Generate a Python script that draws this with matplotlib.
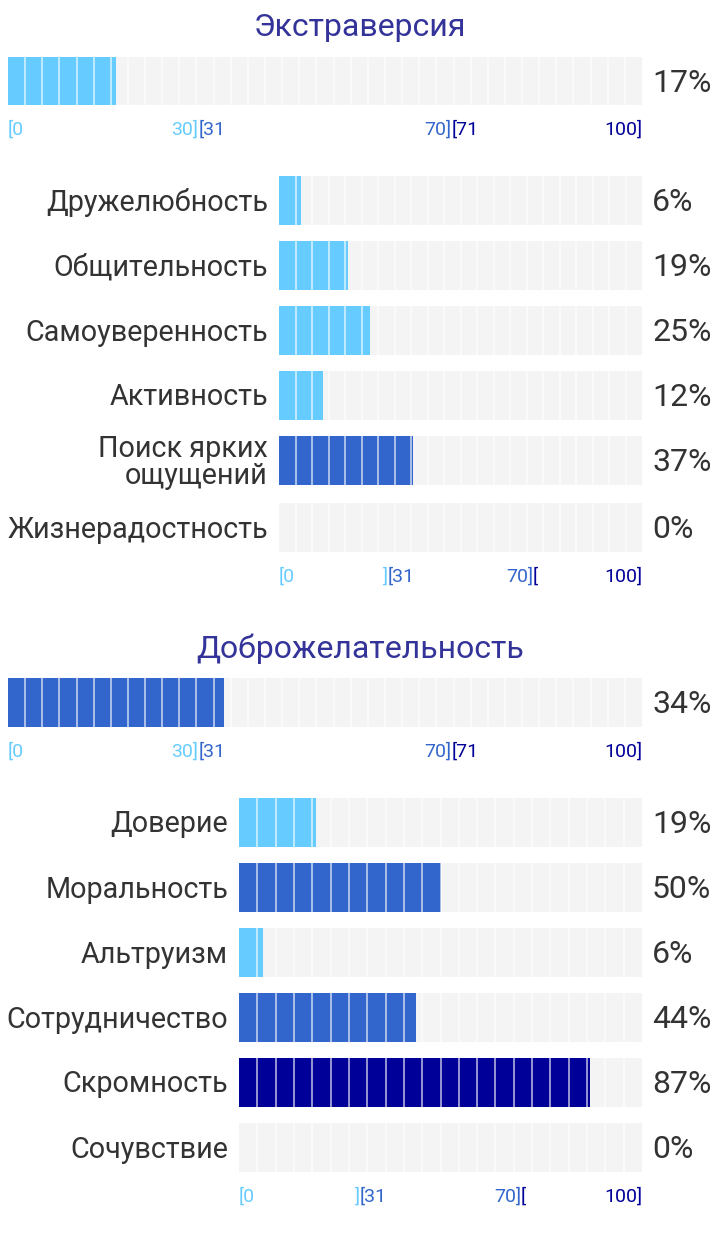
import matplotlib
matplotlib.use("Agg")
import matplotlib.pyplot as plt
import numpy as np

plt.rcParams['font.family'] = ['Roboto', 'DejaVu Sans']

# данные
titles = ["Экстраверсия", "Доброжелательность"]
main_values = [17, 34]
sub_labels_1 = ["Дружелюбность", "Общительность", "Самоуверенность", "Активность",
                "Поиск ярких\nощущений", "Жизнерадостность"]
sub_values_1 = [6, 19, 25, 12, 37, 0]
sub_labels_2 = ["Доверие", "Моральность", "Альтруизм", "Сотрудничество",
                "Скромность", "Сочувствие"]
sub_values_2 = [19, 50, 6, 44, 87, 0]

# цвета
LIGHT = "#66ccff"
MID = "#3366cc"
DARK = "#000099"
GRAY = "#f4f4f4"
TXT = "#333333"
TITLE = "#333399"

W, H = 720, 1240
fig = plt.figure(figsize=(W / 100, H / 100), dpi=100)


def px(v):
    return v * 72 / 100  # пиксели -> пункты


def bar_color(v):
    if v <= 30:
        return LIGHT
    if v <= 70:
        return MID
    return DARK


def make_ax(x0, y0, x1, y1):
    ax = fig.add_axes([x0 / W, 1 - y1 / H, (x1 - x0) / W, (y1 - y0) / H])
    ax.set_xlim(0, 100)
    ax.set_ylim(-0.5, 0.5)
    ax.axis("off")
    return ax


def draw_bar(ax, value, nseg):
    ax.barh(0, 100, height=1, color=GRAY, zorder=1)
    if value > 0:
        ax.barh(0, value, height=1, color=bar_color(value), zorder=2)
    seg = np.linspace(0, 100, nseg + 1)[1:-1]
    ax.vlines(seg, -0.5, 0.5, color="white", lw=1.1, alpha=0.75, zorder=3)
    ax.annotate(f"{value}%", xy=(1, 0.5), xycoords="axes fraction",
                xytext=(10, -2), textcoords="offset pixels",
                ha="left", va="center", fontsize=px(32), color=TXT)


def tick(ax, x, s, color, ha, dy):
    ax.annotate(s, xy=(x, 0), xycoords=("data", "axes fraction"),
                xytext=(0, -dy), textcoords="offset pixels",
                ha=ha, va="center", fontsize=px(19.5), color=color)


def main_ticks(ax):
    tick(ax, 0, "[0", LIGHT, "left", 25)
    tick(ax, 30, "30]", LIGHT, "right", 25)
    tick(ax, 30, "[31", MID, "left", 25)
    tick(ax, 70, "70]", MID, "right", 25)
    tick(ax, 70, "[71", DARK, "left", 25)
    tick(ax, 100, "100]", DARK, "right", 25)


def sub_ticks(ax):
    tick(ax, 0, "[0", LIGHT, "left", 25)
    tick(ax, 30, "]", LIGHT, "right", 25)
    tick(ax, 30, "[31", MID, "left", 25)
    tick(ax, 70, "70]", MID, "right", 25)
    tick(ax, 70, "[", DARK, "left", 25)
    tick(ax, 100, "100]", DARK, "right", 25)


sections = [
    dict(title_y=27, main=(57, 105), sub_x=279,
         sub_tops=[176, 241, 306, 371, 436, 503],
         labels=sub_labels_1, values=sub_values_1),
    dict(title_y=649, main=(678, 727), sub_x=239,
         sub_tops=[798, 863, 928, 993, 1058, 1123],
         labels=sub_labels_2, values=sub_values_2),
]

for i, sec in enumerate(sections):
    fig.text(0.5, 1 - sec["title_y"] / H, titles[i],
             ha="center", va="center", fontsize=px(32), color=TITLE)
    ax = make_ax(8, sec["main"][0], 642, sec["main"][1])
    draw_bar(ax, main_values[i], 37)
    main_ticks(ax)
    for j, (lab, val) in enumerate(zip(sec["labels"], sec["values"])):
        top = sec["sub_tops"][j]
        ax = make_ax(sec["sub_x"], top, 642, top + 49)
        draw_bar(ax, val, 22)
        ax.annotate(lab, xy=(0, 0.5), xycoords="axes fraction",
                    xytext=(-11, -2), textcoords="offset pixels",
                    ha="right", va="center", fontsize=px(28.7), color=TXT,
                    linespacing=0.95, multialignment="right")
        if j == len(sec["labels"]) - 1:
            sub_ticks(ax)

fig.savefig("out.png", dpi=100)
